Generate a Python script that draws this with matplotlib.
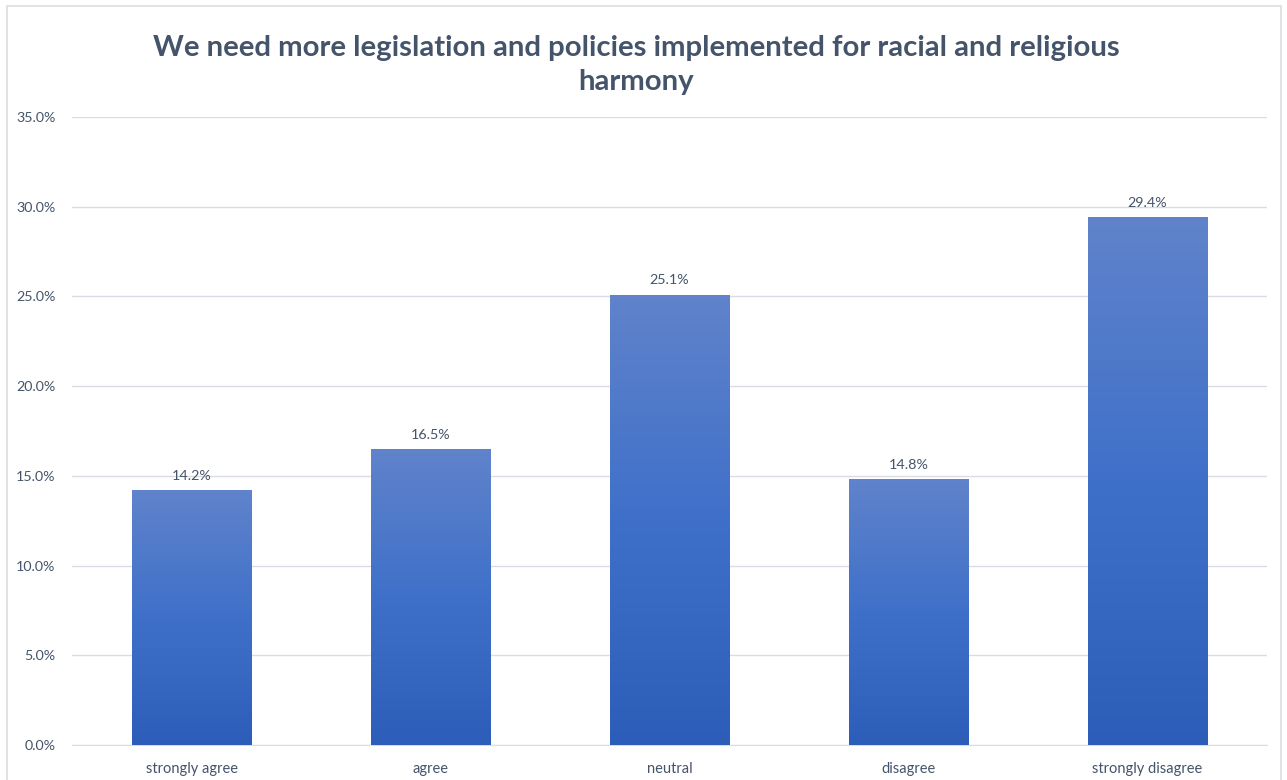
import matplotlib
matplotlib.use("Agg")
import matplotlib.pyplot as plt
import numpy as np
from matplotlib.colors import LinearSegmentedColormap
from matplotlib.patches import Rectangle

categories = ["strongly agree", "agree", "neutral", "disagree", "strongly disagree"]
values = [14.2, 16.5, 25.1, 14.8, 29.4]
yticks = [0, 5, 10, 15, 20, 25, 30, 35]
title = "We need more legislation and policies implemented for racial and religious\nharmony"

plt.rcParams['font.family'] = ['Lato', 'DejaVu Sans']

W, H, DPI = 1287, 780, 100
fig = plt.figure(figsize=(W / DPI, H / DPI), dpi=DPI)
fig.patch.set_facecolor("white")

# outer border
fig.add_artist(Rectangle((7 / W, -0.01), (1281 - 7) / W, (H - 6) / H + 0.01,
                         transform=fig.transFigure, fill=False,
                         edgecolor="#D9DDE3", linewidth=1.2))

left, right = 72 / W, 1267 / W
bottom, top = 1 - 745 / H, 1 - 117 / H
ax = fig.add_axes([left, bottom, right - left, top - bottom])

x = np.arange(len(categories))
bars = ax.bar(x, values, width=0.5, color="#4472C4", zorder=2)

cmap = LinearSegmentedColormap.from_list("g", ["#2C5EB9", "#3F70C9", "#6083CB"])
grad = np.linspace(0, 1, 256).reshape(-1, 1)
for b in bars:
    bx, by = b.get_x(), b.get_y()
    bw, bh = b.get_width(), b.get_height()
    im = ax.imshow(grad, cmap=cmap, aspect="auto", origin="lower",
                   extent=(bx, bx + bw, by, by + bh), zorder=3)
    im.set_clip_path(b)
    b.set_facecolor("none")

for xi, v in zip(x, values):
    ax.annotate(f"{v:.1f}%", (xi, v), xytext=(0, 6), textcoords="offset points",
                ha="center", va="bottom", fontsize=10.3, color="#44546A", zorder=4)

ax.set_xlim(-0.5, len(categories) - 0.5)
ax.set_ylim(0, 35)
ax.set_yticks(yticks)
ax.set_yticklabels([f"{t:.1f}%" for t in yticks], fontsize=10.3, color="#44546A")
ax.set_xticks(x)
ax.set_xticklabels(categories, fontsize=10.5, color="#44546A")
ax.tick_params(axis="both", length=0)
ax.tick_params(axis="y", pad=12)
ax.tick_params(axis="x", pad=12)
ax.grid(axis="y", color="#D9DDE3", linewidth=1, zorder=0)
for s in ["left", "right", "top"]:
    ax.spines[s].set_visible(False)
ax.spines["bottom"].set_color("#D9DDE3")
ax.set_axisbelow(True)

fig.text(636 / W, 1 - 65 / H, title, ha="center", va="center",
         fontsize=21.2, fontweight="bold", color="#44546A", linespacing=1.4)

fig.savefig("out.png", dpi=DPI)
